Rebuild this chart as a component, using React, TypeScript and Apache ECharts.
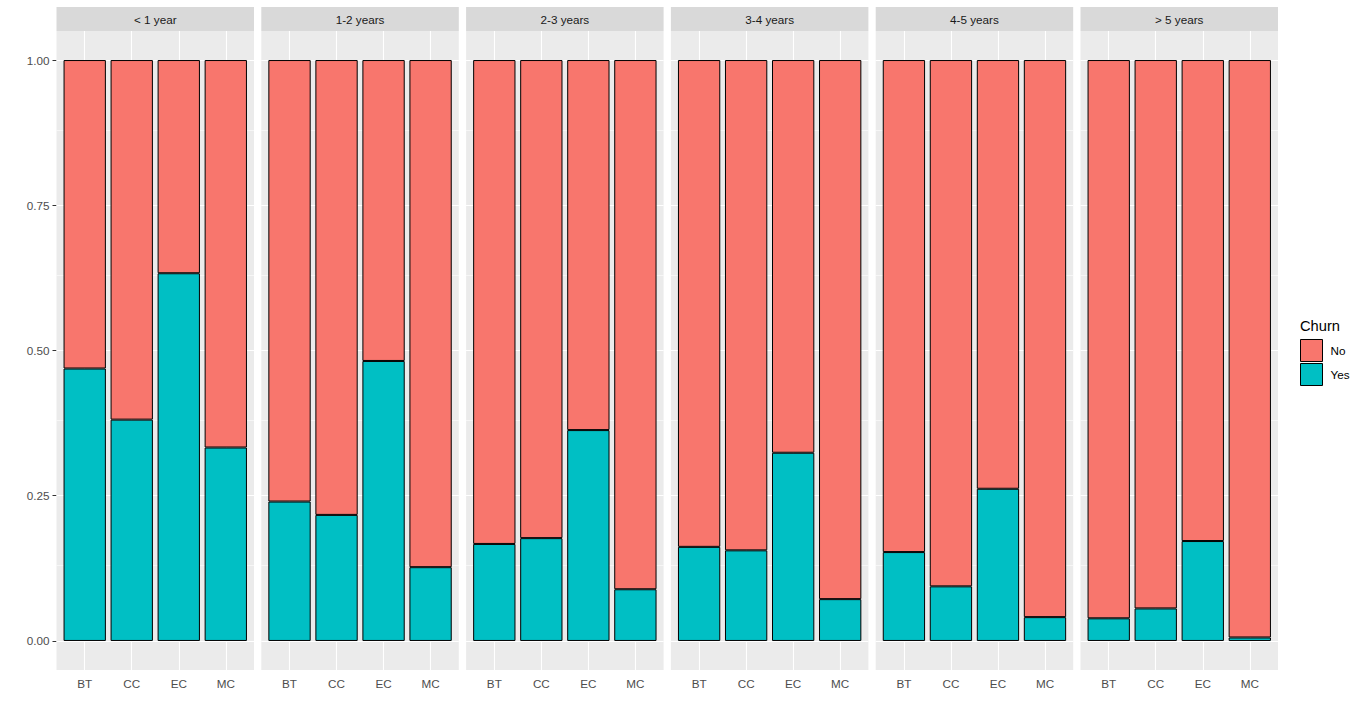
import React, { useEffect, useRef } from "react";
import * as echarts from "echarts";

const tenureGroups = ["< 1 year", "1-2 years", "2-3 years", "3-4 years", "4-5 years", "> 5 years"];
const paymentMethods = ["BT", "CC", "EC", "MC"];
// share of customers who churned (Yes), per tenure group, per payment method
const yesShare = [
  [0.469, 0.381, 0.633, 0.333],
  [0.240, 0.217, 0.482, 0.127],
  [0.167, 0.177, 0.363, 0.089],
  [0.162, 0.156, 0.324, 0.072],
  [0.153, 0.094, 0.262, 0.041],
  [0.039, 0.056, 0.172, 0.006],
];
// share of customers who stayed (No)
const noShare = [
  [0.531, 0.619, 0.367, 0.667],
  [0.760, 0.783, 0.518, 0.873],
  [0.833, 0.823, 0.637, 0.911],
  [0.838, 0.844, 0.676, 0.928],
  [0.847, 0.906, 0.738, 0.959],
  [0.961, 0.944, 0.828, 0.994],
];
const yTicks = [0, 0.25, 0.5, 0.75, 1];
const yMinorTicks = [0.125, 0.375, 0.625, 0.875];
const xPositions = [1, 2, 3, 4];
const legendNames = ["No", "Yes"];
const legendTitle = "Churn";

const FONT = '"Liberation Sans", Arial, Helvetica, sans-serif';
const COLOR_NO = "#F8766D";
const COLOR_YES = "#00BFC4";

export default function App() {
  const ref = useRef<HTMLDivElement>(null);

  useEffect(() => {
    if (!ref.current) return;
    const chart = echarts.init(ref.current, null, { renderer: "svg" });

    const P_LEFT = 56.5;
    const P_STEP = 204.8;
    const P_W = 197.5;
    const P_TOP = 31;
    const P_H = 639;
    const STRIP_TOP = 7;
    const UNIT = P_W / 4.2;
    const N = tenureGroups.length;

    const grids: any[] = [];
    const xAxes: any[] = [];
    const yAxes: any[] = [];
    const series: any[] = [];
    const graphics: any[] = [];

    // background panels (indices 0..N-1)
    tenureGroups.forEach((grp, i) => {
      const left = P_LEFT + i * P_STEP;
      grids.push({
        left,
        top: P_TOP,
        width: P_W,
        height: P_H,
        show: true,
        backgroundColor: "#EBEBEB",
        borderWidth: 0,
        containLabel: false,
      });
      xAxes.push({
        type: "value",
        gridIndex: i,
        min: 0.4,
        max: 4.6,
        axisLine: { show: false },
        splitLine: { show: false },
        axisTick: {
          show: true,
          customValues: xPositions,
          length: 4,
          lineStyle: { color: "#333333", width: 1 },
        },
        axisLabel: {
          show: true,
          customValues: xPositions,
          formatter: (v: number) => paymentMethods[Math.round(v) - 1] ?? "",
          color: "#4D4D4D",
          fontSize: 11.7,
          fontFamily: FONT,
          margin: 7,
        },
      });
      yAxes.push({
        type: "value",
        gridIndex: i,
        min: -0.05,
        max: 1.05,
        axisLine: { show: false },
        splitLine: { show: false },
        axisTick: {
          show: i === 0,
          customValues: yTicks,
          length: 4,
          lineStyle: { color: "#333333", width: 1 },
        },
        axisLabel: {
          show: i === 0,
          customValues: yTicks,
          formatter: (v: number) => v.toFixed(2),
          color: "#4D4D4D",
          fontSize: 11.7,
          fontFamily: FONT,
          margin: 7,
        },
      });

      series.push({
        type: "line",
        name: "grid" + i,
        xAxisIndex: i,
        yAxisIndex: i,
        data: [],
        silent: true,
        symbol: "none",
        z: 1,
        markLine: {
          silent: true,
          z: 1,
          symbol: ["none", "none"],
          label: { show: false },
          emphasis: { disabled: true },
          lineStyle: { color: "#FFFFFF", type: "solid", width: 1.1 },
          data: [
            ...yMinorTicks.map((v) => ({ yAxis: v, lineStyle: { color: "#FFFFFF", type: "solid", width: 0.55 } })),
            ...yTicks.map((v) => ({ yAxis: v, lineStyle: { color: "#FFFFFF", type: "solid", width: 1.1 } })),
            ...xPositions.map((v) => ({ xAxis: v, lineStyle: { color: "#FFFFFF", type: "solid", width: 1.1 } })),
          ],
        },
      });

      graphics.push({
        type: "rect",
        shape: { x: left, y: STRIP_TOP, width: P_W, height: P_TOP - STRIP_TOP },
        style: { fill: "#D9D9D9" },
        silent: true,
      });
      graphics.push({
        type: "text",
        x: left + P_W / 2,
        y: (STRIP_TOP + P_TOP) / 2,
        style: {
          text: grp,
          fill: "#1A1A1A",
          font: `11.7px ${FONT}`,
          textAlign: "center",
          textVerticalAlign: "middle",
        },
        silent: true,
      });
    });

    // bar grids (indices N..2N-1), category axes inset by ggplot's 0.6-unit expansion
    tenureGroups.forEach((grp, i) => {
      const gi = N + i;
      const left = P_LEFT + i * P_STEP + 0.1 * UNIT;
      grids.push({
        left,
        top: P_TOP,
        width: 4 * UNIT,
        height: P_H,
        show: false,
        containLabel: false,
      });
      xAxes.push({
        type: "category",
        gridIndex: gi,
        data: paymentMethods,
        boundaryGap: true,
        axisLine: { show: false },
        axisTick: { show: false },
        axisLabel: { show: false },
        splitLine: { show: false },
      });
      yAxes.push({
        type: "value",
        gridIndex: gi,
        min: -0.05,
        max: 1.05,
        axisLine: { show: false },
        axisTick: { show: false },
        axisLabel: { show: false },
        splitLine: { show: false },
      });
      series.push({
        type: "bar",
        name: "Yes",
        xAxisIndex: gi,
        yAxisIndex: gi,
        stack: "s" + i,
        barCategoryGap: "10%",
        z: 2,
        itemStyle: { color: COLOR_YES, borderColor: "#000000", borderWidth: 1 },
        data: yesShare[i],
      });
      series.push({
        type: "bar",
        name: "No",
        xAxisIndex: gi,
        yAxisIndex: gi,
        stack: "s" + i,
        barCategoryGap: "10%",
        z: 2,
        itemStyle: { color: COLOR_NO, borderColor: "#000000", borderWidth: 1 },
        data: noShare[i],
      });
    });

    graphics.push({
      type: "text",
      x: 1300,
      y: 326,
      style: {
        text: legendTitle,
        fill: "#000000",
        font: `14.7px ${FONT}`,
        textAlign: "left",
        textVerticalAlign: "middle",
      },
      silent: true,
    });

    chart.setOption({
      animation: false,
      backgroundColor: "#FFFFFF",
      textStyle: { fontFamily: FONT },
      grid: grids,
      xAxis: xAxes,
      yAxis: yAxes,
      legend: {
        data: legendNames,
        orient: "vertical",
        left: 1300,
        top: 339,
        padding: 0,
        itemWidth: 22,
        itemHeight: 22,
        itemGap: 1,
        icon: "rect",
        selectedMode: false,
        itemStyle: { borderColor: "#000000", borderWidth: 1 },
        textStyle: { fontSize: 11.7, color: "#000000", fontFamily: FONT, padding: [0, 0, 0, 3] },
      },
      graphic: graphics,
      series,
    });

    return () => {
      chart.dispose();
    };
  }, []);

  return (
    <div
      ref={ref}
      style={{ position: "absolute", left: 0, top: 0, width: 1366, height: 715 }}
    />
  );
}
